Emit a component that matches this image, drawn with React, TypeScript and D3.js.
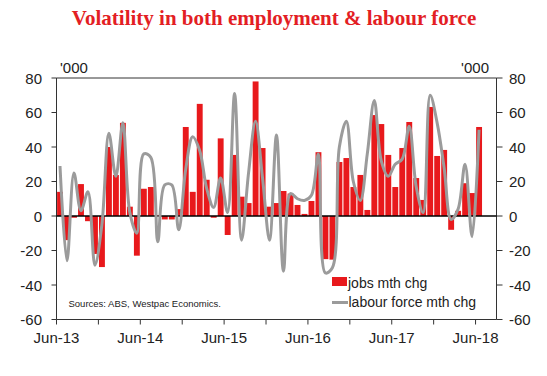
import React from "react";
import * as d3 from "d3";

const jobs = [14, -14, -1, 18.5, -3, -22, -29.6, 40, 23.8, 54, 5.4, -23, 15.8, 16.8, 0.6, -2, -2, 4, 51.6, 14, 65, 21, -1, 45, -11, 35.4, 11.2, 7.5, 78, 39.4, 5.4, 7.5, 14.5, 13, 6.4, 1.2, 8.7, 37, -25, -25.3, 31.3, 33.6, 16.8, 23.8, 3.5, 58.5, 53.3, 35.4, 16.8, 39.4, 54.5, 22, 9.3, 63.2, 34.8, 38.3, -8, 3, 19, 13.3, 51.6];
const labour = [29, -26, 25, 3, 14, -28.5, -5, 48, 23, 54, 2, -10, 36, 34, -15, 18, 18, -8, 27, 46, 38, 16, 5, 22, 2, 71, -14, 25, 55, 22, -14, 47, -32, 13, 10, 9, 12, 36, -33, -30, 40, 55, 20, 9, 36, 67, 32, 23, 30, 33, 52, 17, 2, 70, 54, 28, -2, 4, 30, -12, 50];
const xTickLabels = ["Jun-13", "Jun-14", "Jun-15", "Jun-16", "Jun-17", "Jun-18"];
const yTicks = [-60, -40, -20, 0, 20, 40, 60, 80];

const W = 547, H = 376;
const L = 56.5, R = 496.5, T = 78, B = 319.5;
const font = "Arial, 'Liberation Sans', sans-serif";
const textCol = "#222";
const axisCol = "#333";

export default function App() {
  const x = d3.scaleLinear().domain([0, 63]).range([L, R]);
  const y = d3.scaleLinear().domain([-60, 80]).range([B, T]);
  const line = d3
    .line<number>()
    .x((_, i) => x(i + 0.5))
    .y((d) => y(d))
    .curve(d3.curveCatmullRom.alpha(0.5));
  const minorTicks = d3.range(0, 61, 6);

  return (
    <svg width={W} height={H} style={{ position: "absolute", left: 0, top: 0, background: "#fff" }}>
      <text x={274} y={25} textAnchor="middle" fontFamily="'Times New Roman', 'Liberation Serif', serif" fontWeight="bold" fontSize={21} fill="#e31e24">
        Volatility in both employment &amp; labour force
      </text>
      <text x={60} y={72.5} fontFamily={font} fontSize={15} fill={textCol}>'000</text>
      <text x={489} y={72.5} textAnchor="end" fontFamily={font} fontSize={15} fill={textCol}>'000</text>

      {/* bars */}
      {jobs.map((v, i) => (
        <rect key={i} x={x(i) + 0.6} width={x(i + 1) - x(i) - 1.1} y={Math.min(y(v), y(0))} height={Math.abs(y(v) - y(0))} fill="#e8191c" />
      ))}

      {/* axes */}
      <line x1={L} x2={R} y1={T} y2={T} stroke={axisCol} strokeWidth={1} />
      <line x1={L} x2={L} y1={T} y2={B} stroke={axisCol} strokeWidth={1} />
      <line x1={R} x2={R} y1={T} y2={B} stroke={axisCol} strokeWidth={1} />
      <line x1={L} x2={R} y1={B} y2={B} stroke={axisCol} strokeWidth={1} />
      {yTicks.map((t) => (
        <g key={t}>
          <line x1={L - 5} x2={L} y1={y(t)} y2={y(t)} stroke={axisCol} />
          <line x1={R} x2={R + 6} y1={y(t)} y2={y(t)} stroke={axisCol} />
          <text x={42} y={y(t) + 5.5} textAnchor="end" fontFamily={font} fontSize={15} fill={textCol}>{t}</text>
          <text x={509} y={y(t) + 5.5} fontFamily={font} fontSize={15} fill={textCol}>{t}</text>
        </g>
      ))}
      {minorTicks.map((m) => (
        <line key={m} x1={x(m)} x2={x(m)} y1={B} y2={B + 5} stroke={axisCol} />
      ))}
      {xTickLabels.map((lab, k) => (
        <text key={lab} x={x(k * 12)} y={343} textAnchor="middle" fontFamily={font} fontSize={15} fill={textCol}>{lab}</text>
      ))}

      <line x1={L} x2={R} y1={y(0)} y2={y(0)} stroke="#000" strokeWidth={1.5} />
      <path d={line(labour) || ""} fill="none" stroke="#9b9b9b" strokeWidth={3} />

      {/* legend */}
      <rect x={332} y={277} width={15} height={9} fill="#e8191c" />
      <text x={348} y={288} fontFamily={font} fontSize={14} fill={textCol}>jobs mth chg</text>
      <line x1={332} x2={348} y1={302.5} y2={302.5} stroke="#9b9b9b" strokeWidth={3} />
      <text x={348.5} y={306.5} fontFamily={font} fontSize={14} fill={textCol}>labour force mth chg</text>
      <text x={68.5} y={306.5} fontFamily={font} fontSize={9.5} fill={textCol}>Sources: ABS, Westpac Economics.</text>
    </svg>
  );
}
